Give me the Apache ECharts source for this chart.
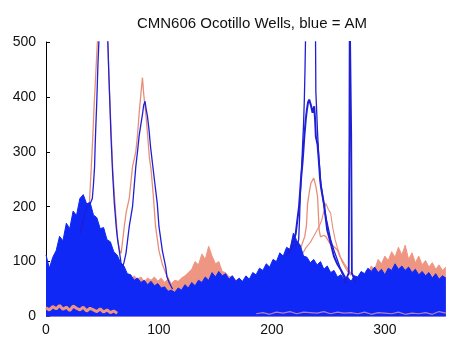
<!DOCTYPE html>
<html><head><meta charset="utf-8">
<script src="https://cdn.jsdelivr.net/npm/echarts@6/dist/echarts.min.js"></script>
<style>html,body{margin:0;padding:0;background:#fff}#c{width:450px;height:340px}</style>
</head><body><div id="c"></div>
<script>
// ---- data ----
const titleText = 'CMN606 Ocotillo Wells, blue = AM';
const xTicks = [0, 100, 200, 300];
const yTicks = [0, 100, 200, 300, 400, 500];
const massStep = 3; // samples at x = 0, 3, 6, ... 354

// upper edge of the dense blue (AM) traces
const blueEnvelope = [112,88,108,120,146,138,170,160,192,184,215,222,205,208,185,180,160,162,140,136,
  118,112,98,92,78,76,66,70,62,66,58,64,56,60,52,54,46,48,44,52,
  48,58,52,62,56,66,62,72,66,80,72,82,74,78,68,74,64,70,64,74,
  68,80,76,88,84,96,90,104,100,116,110,126,122,152,138,130,110,108,98,104,
  94,100,86,92,80,84,72,76,68,72,64,74,72,82,78,88,82,90,80,86,
  76,88,84,96,86,92,84,90,80,86,76,82,74,80,70,78,68,74,70];

// upper edge of the dense salmon (PM) traces
const salmonEnvelope = [40,40,40,40,40,40,40,40,40,40,40,40,40,40,40,40,40,40,40,40,40,40,40,
  70,72,66,74,68,72,64,70,66,72,64,70,62,68,60,66,64,70,74,80,86,100,94,114,104,128,110,96,100,82,80,72,74,66,68,62,66,
  50,50,50,50,50,50,50,50,50,50,50,50,50,50,50,50,50,50,50,50,50,50,50,50,50,50,50,50,50,50,50,50,50,50,50,
  80,92,86,104,96,110,102,118,108,126,112,130,104,116,98,110,94,102,90,98,86,94,84,90];

// low salmon band near the bottom-left
const salmonBandX = [0,3,6,9,12,15,18,21,24,27,30,33,36,39,42,45,48,51,54,57,60,63];
const salmonBandY = [16,12,18,14,20,13,17,11,19,15,12,17,10,15,12,9,14,8,12,7,10,6];

// low pinkish trace along the bottom on the right half
const lowTraceX = [186,192,198,204,210,216,222,228,234,240,246,252,258,264,270,276,282,288,294,300,306,312,318,324,330,336,342,348,354];
const lowTraceY = [5,7,4,8,6,9,5,8,7,6,9,5,8,6,7,5,8,4,7,6,5,8,4,6,5,7,4,9,6];

// individual peak traces
const bluePeakABX = [30,36,39,41,42,43,43.5,44,45,46,47,49,53,54.7,55.5,56.5,57.5,59,60.5,62.3,63.4,65,66.4,67.8,69,70.8,73.7,76.6,79.5,81,82.5,84,85.4,86.5,87.7,88.6,89.8,91.2,92.5,94.2,96.5,98.5,100,103,106,107,109,112];
const bluePeakABY = [150,200,205,215,240,273,310,340,394,460,510,560,560,505,450,390,330,260,206,160,140,118,98,91,98,115,164,200,273,300,330,350,368,385,392,378,365,340,310,280,240,206,164,120,90,73,62,50];

const salmonPeakABX = [32,38,40,41.5,42.5,43.5,44.5,45.5,47,53,55,56,57,58,59,60.5,62,63.5,65,66.5,68,69.3,71,73.7,76.6,79.5,81,82.5,84,85.4,86.5,88.3,90,91.5,93,95,97,100,103,106,110];
const salmonPeakABY = [140,190,268,330,380,420,460,500,560,560,480,420,370,320,270,222,180,140,121,115,118,164,190,215,273,300,330,371,405,435,405,371,330,290,268,220,164,120,95,79,62];

const bluePeakC1X = [212,218,223,223.7,224.5,225,226,227,228,228.7,229.3,229.8,232,237,238.6,238.9,239.5,240.4,241.5,243.3,245.5,247.7,250,252,255,258,262,266];
const bluePeakC1Y = [110,125,134,140,180,213,260,304,350,395,450,510,560,560,510,410,380,335,290,243,210,182,160,140,120,103,79,62];

const bluePeakC2X = [215,221,224,225.7,227.2,228.7,230,231,232,233,234.5,236,237.4,238.2,238.9,240.4,241.5,242.7,243.5,246,249,252,255,258,261,265];
const bluePeakC2Y = [115,150,200,249,283,328,360,377,390,395,385,371,383,360,328,313,285,249,235,206,157,134,109,95,85,70];

const spikeX = [264,268,268.6,268.9,269.9,270.2,270.8,274];
const spikeY = [60,79,330,560,560,330,79,62];

const salmonPeakC1X = [218,222,225,227,229,230.5,231.6,233,234.5,237,238,238.9,240.4,241.8,243,246,248,251,255,258,260,263.8,269.6,275];
const salmonPeakC1Y = [90,100,120,134,145,164,206,225,243,252,245,237,219,158,145,148,145,134,127,121,110,97,79,70];

const salmonPeakC2X = [226,230,234,238,242,244,247.7,250,252,254,256,258,262,266,270];
const salmonPeakC2Y = [110,125,135,150,165,175,206,195,188,160,140,125,100,85,75];

// ---- build ----
const pairs = (xs, ys) => xs.map((x, i) => [x, ys[i]]);
const stepPairs = (ys) => ys.map((y, i) => [i * massStep, y]);

const BLUE = '#1028f5', BLUE_LINE = '#1f1fd6', SALMON = '#ef9682', SALMON_LINE = '#e88e78';
const base = {type: 'line', showSymbol: false, symbol: 'none', animation: false, clip: true, silent: true};
let zc = 2;
const mk = (o) => Object.assign({}, base, {z: zc++}, o);

const chart = echarts.init(document.getElementById('c'), null, {renderer: 'canvas'});
chart.setOption({
  backgroundColor: '#fff',
  animation: false,
  title: {
    text: titleText, left: 247, top: 11, textAlign: 'center',
    textStyle: {fontFamily: 'Liberation Sans', fontSize: 15, fontWeight: 'normal', color: '#111'}
  },
  grid: {left: 46, right: 0, top: 42, bottom: 23.5, containLabel: false},
  xAxis: {
    type: 'value', min: 0, max: 355, interval: 100,
    axisLine: {show: false}, axisTick: {show: false}, splitLine: {show: false},
    axisLabel: {
      margin: 7, fontFamily: 'Liberation Sans', fontSize: 14, color: '#111',
      formatter: v => (xTicks.indexOf(v) >= 0 ? String(v) : '')
    }
  },
  yAxis: {
    type: 'value', min: 0, max: 500, interval: 100,
    axisLine: {show: true, lineStyle: {color: '#000', width: 1}},
    axisTick: {show: true, inside: true, length: 4, lineStyle: {color: '#000'}},
    splitLine: {show: false},
    axisLabel: {
      margin: 10, fontFamily: 'Liberation Sans', fontSize: 14, color: '#111',
      formatter: v => (yTicks.indexOf(v) >= 0 ? String(v) : '')
    }
  },
  series: [
    mk({name: 'PM mass', data: stepPairs(salmonEnvelope),
      lineStyle: {color: SALMON, width: 1}, areaStyle: {color: SALMON, opacity: 1}}),
    mk({name: 'PM AB', data: pairs(salmonPeakABX, salmonPeakABY),
      lineStyle: {color: SALMON_LINE, width: 1.3}}),
    mk({name: 'PM C1', data: pairs(salmonPeakC1X, salmonPeakC1Y),
      lineStyle: {color: SALMON_LINE, width: 1.3}}),
    mk({name: 'PM C2', data: pairs(salmonPeakC2X, salmonPeakC2Y),
      lineStyle: {color: SALMON_LINE, width: 1.1}}),
    mk({name: 'AM mass', data: stepPairs(blueEnvelope),
      lineStyle: {color: BLUE, width: 1}, areaStyle: {color: BLUE, opacity: 1}}),
    mk({name: 'AM AB', data: pairs(bluePeakABX, bluePeakABY),
      lineStyle: {color: BLUE_LINE, width: 1.3}}),
    mk({name: 'AM C1', data: pairs(bluePeakC1X, bluePeakC1Y),
      lineStyle: {color: BLUE_LINE, width: 1.3}}),
    mk({name: 'AM C2', data: pairs(bluePeakC2X, bluePeakC2Y),
      lineStyle: {color: BLUE_LINE, width: 2}}),
    mk({name: 'AM spike', data: pairs(spikeX, spikeY),
      lineStyle: {color: BLUE_LINE, width: 1.8}}),
    mk({name: 'PM band', data: pairs(salmonBandX, salmonBandY),
      lineStyle: {color: SALMON, width: 3}}),
    mk({name: 'low trace', data: pairs(lowTraceX, lowTraceY),
      lineStyle: {color: '#c88ab8', width: 1.2, opacity: 0.9}})
  ]
});
</script>
</body></html>
